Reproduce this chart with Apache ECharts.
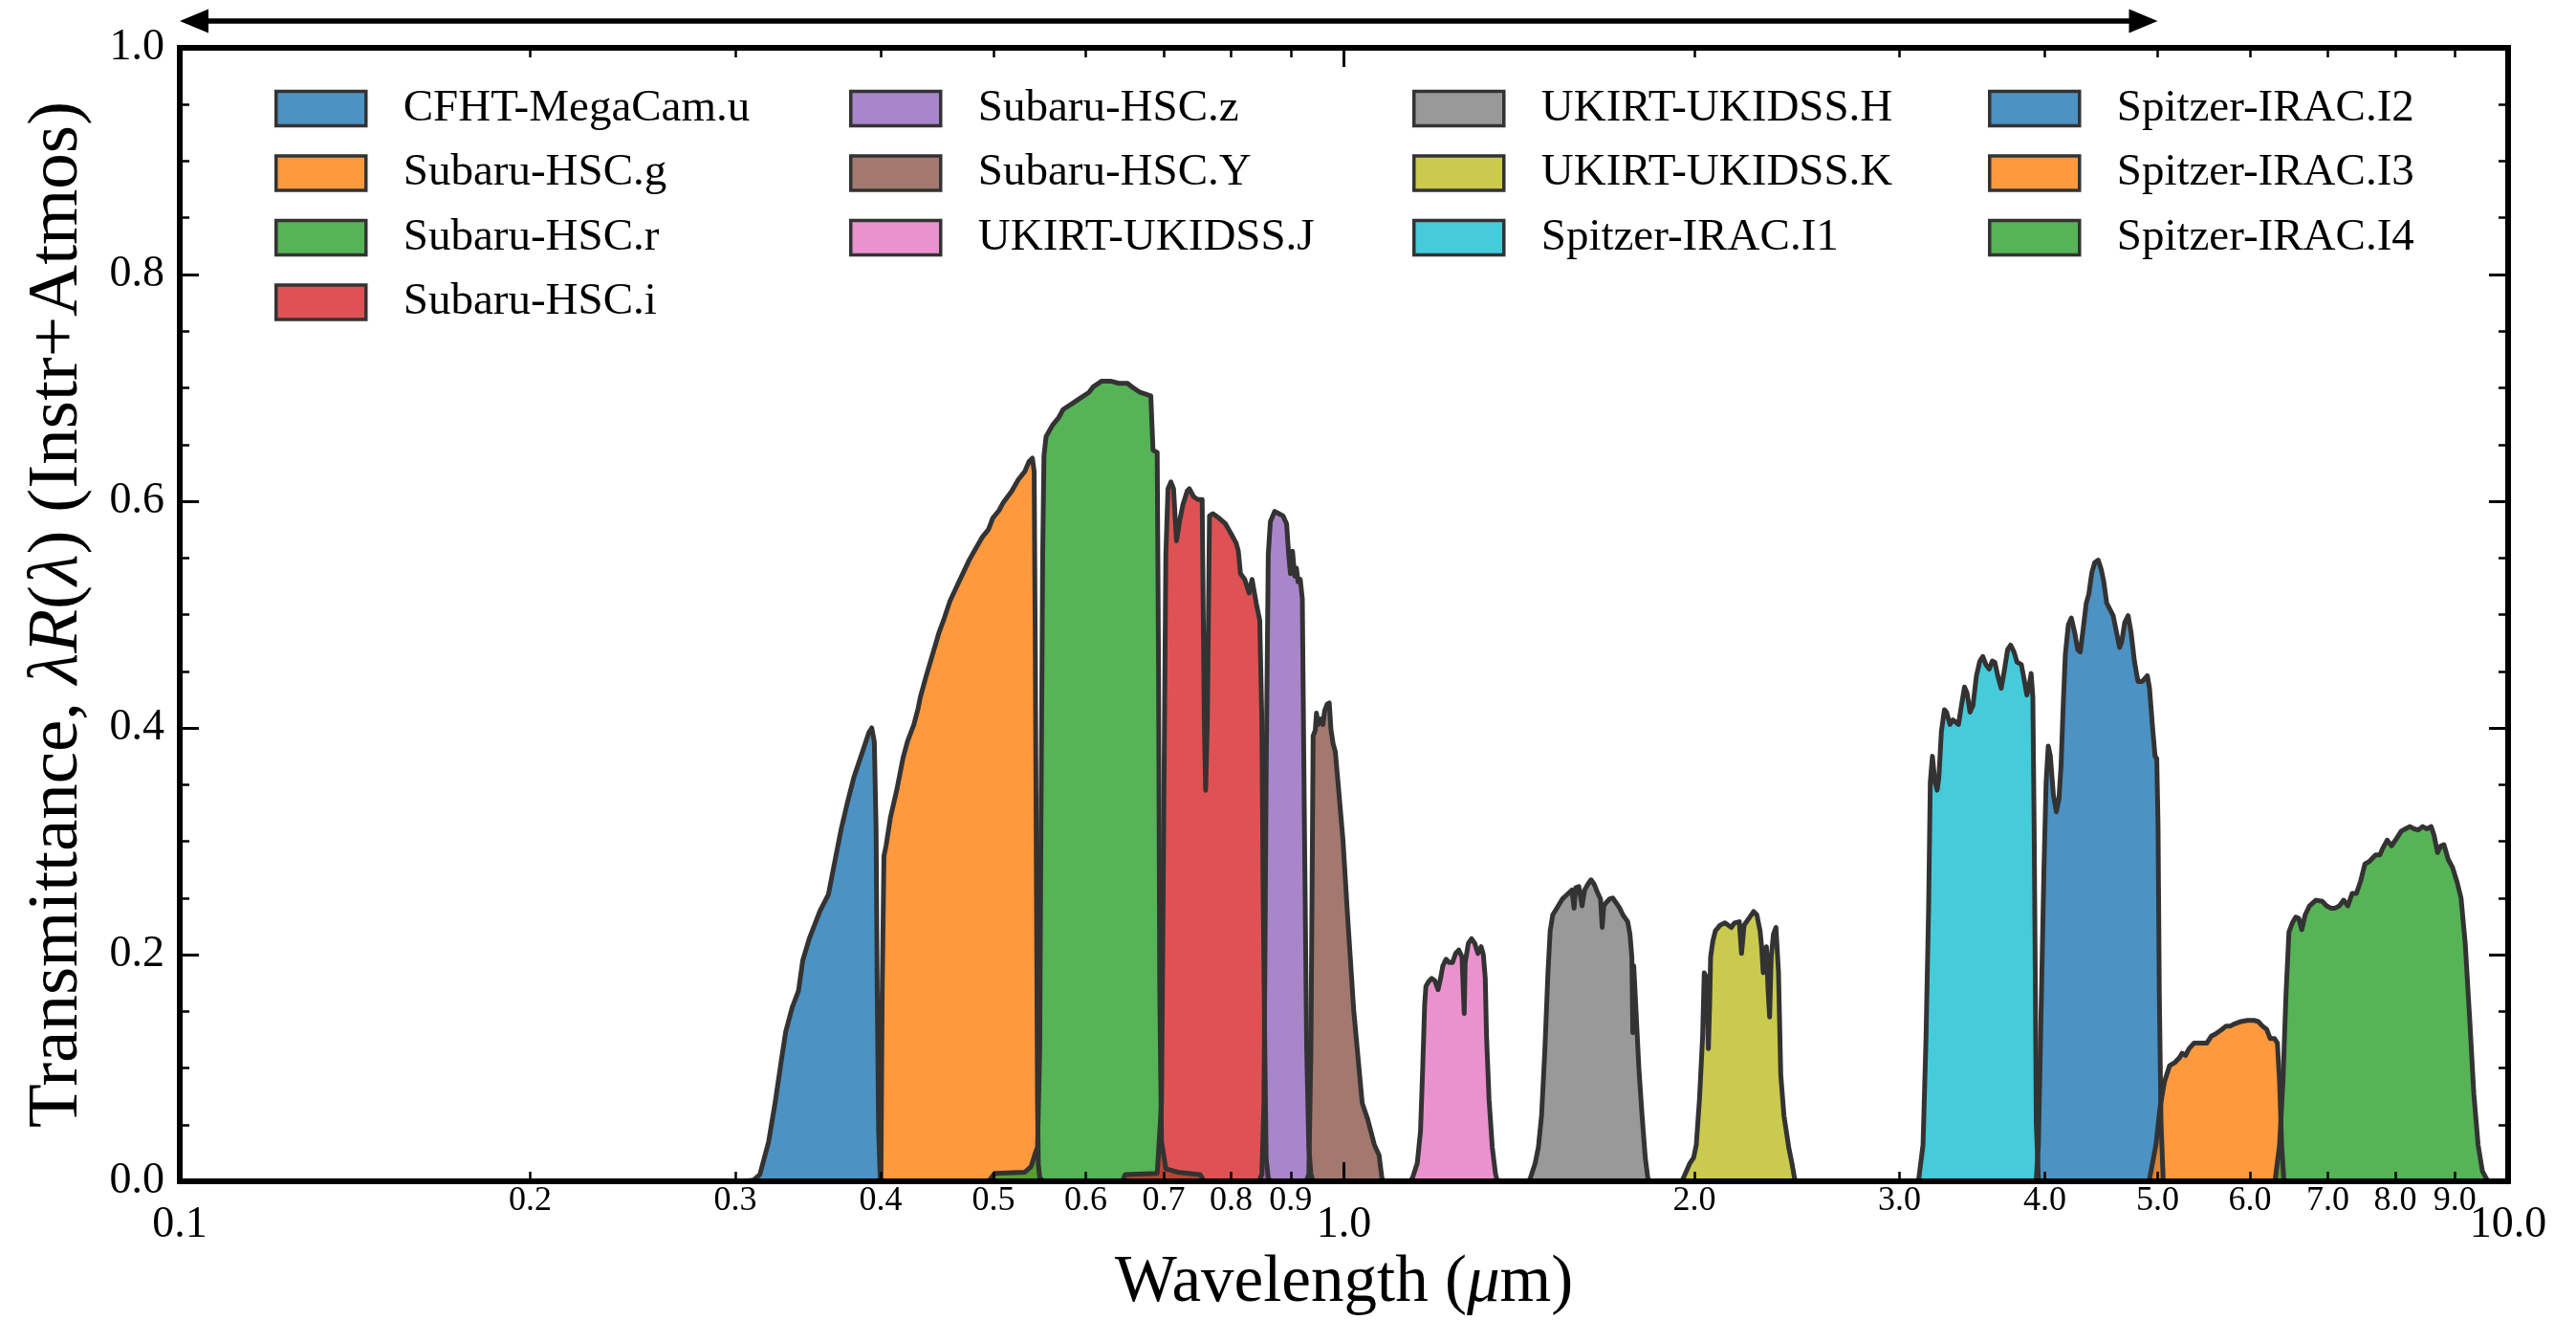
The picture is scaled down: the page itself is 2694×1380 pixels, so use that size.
<!DOCTYPE html>
<html><head><meta charset="utf-8">
<script src="https://cdn.jsdelivr.net/npm/echarts@6/dist/echarts.min.js"></script>
<style>html,body{margin:0;padding:0;background:#fff}#c{width:2694px;height:1380px}</style>
</head><body><div id="c"></div>
<script>
// ---------------- DATA ----------------
const filterNames = ['CFHT-MegaCam.u','Subaru-HSC.g','Subaru-HSC.r','Subaru-HSC.i','Subaru-HSC.z','Subaru-HSC.Y',
  'UKIRT-UKIDSS.J','UKIRT-UKIDSS.H','UKIRT-UKIDSS.K','Spitzer-IRAC.I1','Spitzer-IRAC.I2','Spitzer-IRAC.I3','Spitzer-IRAC.I4'];
const filterColors = ['#1f77b4','#ff7f0e','#2ca02c','#d62728','#9467bd','#8c564b','#e377c2','#7f7f7f','#bcbd22','#17becf','#1f77b4','#ff7f0e','#2ca02c'];

// [wavelength (um), transmittance]
const CFHT_u = [[0.305,0],[0.311,0.001],[0.315,0.006],[0.3205,0.035],[0.3246,0.069],[0.3287,0.107],[0.3315,0.132],[0.3357,0.153],[0.340,0.168],[0.3429,0.195],[0.3473,0.214],[0.3546,0.238],[0.3607,0.253],[0.3653,0.282],[0.370,0.311],[0.3747,0.335],[0.3795,0.357],[0.3859,0.379],[0.3908,0.396],[0.393,0.400],[0.395,0.388],[0.3964,0.311],[0.3973,0.166],[0.3984,0.044],[0.3997,0.002],[0.402,0]];
const HSC_g = [[0.397,0],[0.4002,0.002],[0.4012,0.166],[0.4026,0.287],[0.4043,0.296],[0.4078,0.321],[0.4129,0.345],[0.4182,0.374],[0.4218,0.388],[0.4272,0.403],[0.4307,0.417],[0.4326,0.427],[0.438,0.447],[0.4436,0.466],[0.4492,0.485],[0.453,0.495],[0.4588,0.512],[0.4646,0.524],[0.4705,0.536],[0.4765,0.548],[0.4826,0.558],[0.4888,0.568],[0.495,0.575],[0.4992,0.585],[0.5056,0.592],[0.5099,0.599],[0.5185,0.609],[0.5251,0.619],[0.5318,0.626],[0.5364,0.635],[0.540,0.638],[0.5419,0.626],[0.5432,0.456],[0.5446,0.214],[0.5455,0.069],[0.5464,0.015],[0.548,0.003],[0.552,0]];
const HSC_r = [[0.495,0],[0.5012,0.007],[0.5318,0.008],[0.5386,0.013],[0.5432,0.025],[0.5455,0.030],[0.5479,0.117],[0.5492,0.311],[0.5511,0.553],[0.5525,0.640],[0.5548,0.657],[0.5618,0.667],[0.569,0.674],[0.5739,0.681],[0.5838,0.686],[0.5938,0.691],[0.6039,0.696],[0.6091,0.701],[0.6194,0.706],[0.630,0.706],[0.6407,0.704],[0.6517,0.704],[0.6572,0.701],[0.6683,0.696],[0.6825,0.693],[0.6855,0.645],[0.6912,0.643],[0.693,0.456],[0.6947,0.166],[0.6971,0.035],[0.7031,0.011],[0.72,0.008],[0.7522,0.006],[0.7586,0]];
const HSC_i = [[0.645,0],[0.6488,0.006],[0.6912,0.007],[0.6971,0.069],[0.7001,0.311],[0.7031,0.553],[0.7061,0.611],[0.7102,0.617],[0.7139,0.611],[0.7181,0.565],[0.7224,0.582],[0.7273,0.597],[0.7335,0.609],[0.7366,0.611],[0.7428,0.604],[0.7491,0.6015],[0.7555,0.6015],[0.7586,0.408],[0.7607,0.345],[0.7633,0.408],[0.7665,0.587],[0.7716,0.589],[0.7814,0.585],[0.7912,0.580],[0.8012,0.570],[0.8081,0.563],[0.8115,0.556],[0.815,0.536],[0.8219,0.531],[0.8289,0.519],[0.8338,0.531],[0.8408,0.510],[0.8466,0.495],[0.8501,0.408],[0.8522,0.262],[0.8551,0.117],[0.8574,0.020],[0.861,0.003],[0.865,0]];
const HSC_z = [[0.845,0],[0.8501,0.006],[0.8537,0.069],[0.8574,0.359],[0.861,0.553],[0.8646,0.582],[0.8719,0.591],[0.8793,0.589],[0.8867,0.587],[0.8928,0.580],[0.8965,0.553],[0.8996,0.536],[0.9033,0.556],[0.9072,0.534],[0.9103,0.541],[0.9132,0.529],[0.9172,0.531],[0.921,0.514],[0.9249,0.311],[0.929,0.117],[0.9329,0.030],[0.9368,0.006],[0.941,0]];
const HSC_Y = [[0.928,0],[0.9329,0.006],[0.9368,0.117],[0.9409,0.393],[0.9449,0.398],[0.9471,0.413],[0.9504,0.403],[0.9553,0.408],[0.9592,0.403],[0.9625,0.415],[0.9674,0.421],[0.9714,0.422],[0.9748,0.398],[0.9789,0.386],[0.9831,0.379],[0.9897,0.345],[0.9981,0.301],[1.0067,0.238],[1.0195,0.151],[1.0368,0.069],[1.048,0.055],[1.0622,0.032],[1.072,0.023],[1.078,0.003],[1.082,0]];
const UKIDSS_J = [[1.14,0],[1.1452,0.003],[1.1561,0.016],[1.1635,0.044],[1.1686,0.100],[1.1731,0.156],[1.176,0.172],[1.1819,0.176],[1.1894,0.179],[1.1969,0.177],[1.2045,0.169],[1.2106,0.179],[1.216,0.190],[1.2238,0.196],[1.2315,0.193],[1.2393,0.193],[1.2472,0.201],[1.2551,0.204],[1.263,0.198],[1.2686,0.148],[1.271,0.193],[1.279,0.210],[1.2871,0.214],[1.2953,0.210],[1.3035,0.201],[1.3117,0.207],[1.3175,0.200],[1.3225,0.179],[1.3258,0.128],[1.3325,0.072],[1.341,0.030],[1.3494,0.007],[1.3537,0.001],[1.358,0]];
const UKIDSS_H = [[1.44,0],[1.446,0.003],[1.4598,0.016],[1.469,0.030],[1.4783,0.058],[1.4877,0.114],[1.4971,0.184],[1.5037,0.221],[1.5113,0.235],[1.5257,0.242],[1.5402,0.249],[1.5548,0.253],[1.5696,0.257],[1.5765,0.241],[1.5815,0.259],[1.5915,0.260],[1.6016,0.243],[1.6097,0.257],[1.6199,0.262],[1.6302,0.266],[1.6405,0.262],[1.6509,0.255],[1.6613,0.249],[1.6666,0.224],[1.6718,0.243],[1.6803,0.246],[1.6909,0.249],[1.7016,0.250],[1.7124,0.246],[1.7254,0.241],[1.7363,0.235],[1.7529,0.229],[1.7607,0.218],[1.7673,0.198],[1.7706,0.131],[1.774,0.190],[1.7808,0.156],[1.792,0.100],[1.8034,0.058],[1.8148,0.021],[1.824,0.003],[1.83,0]];
const UKIDSS_K = [[1.95,0],[1.9571,0.003],[1.9823,0.016],[1.9973,0.021],[2.0074,0.032],[2.0201,0.072],[2.0329,0.128],[2.0393,0.184],[2.0458,0.181],[2.0522,0.156],[2.0561,0.117],[2.0613,0.156],[2.0652,0.198],[2.0743,0.212],[2.0848,0.221],[2.1046,0.226],[2.1246,0.228],[2.1381,0.226],[2.1516,0.224],[2.1652,0.228],[2.1858,0.229],[2.1955,0.201],[2.2066,0.226],[2.2276,0.232],[2.2488,0.238],[2.263,0.235],[2.2773,0.221],[2.2845,0.207],[2.2917,0.184],[2.3062,0.207],[2.3135,0.170],[2.3208,0.145],[2.3282,0.198],[2.3385,0.218],[2.3502,0.224],[2.3577,0.224],[2.3621,0.184],[2.3726,0.094],[2.3876,0.058],[2.4103,0.030],[2.4255,0.016],[2.4378,0.003],[2.445,0]];
const IRAC_I1 = [[3.10,0],[3.1171,0.002],[3.1435,0.032],[3.1621,0.126],[3.1782,0.239],[3.189,0.352],[3.2025,0.375],[3.2188,0.352],[3.2325,0.345],[3.2435,0.356],[3.2599,0.397],[3.2793,0.416],[3.2932,0.414],[3.3155,0.403],[3.3352,0.407],[3.355,0.405],[3.372,0.403],[3.392,0.420],[3.4122,0.436],[3.4295,0.431],[3.4498,0.414],[3.4703,0.420],[3.4938,0.446],[3.5175,0.459],[3.5384,0.463],[3.5594,0.456],[3.5835,0.452],[3.6048,0.459],[3.6231,0.458],[3.6446,0.446],[3.6693,0.435],[3.6911,0.450],[3.7161,0.469],[3.7383,0.473],[3.7636,0.467],[3.7859,0.458],[3.8182,0.456],[3.8408,0.442],[3.8603,0.429],[3.8767,0.437],[3.8931,0.448],[3.9063,0.427],[3.9162,0.314],[3.9262,0.164],[3.9328,0.051],[3.9494,0.002],[3.96,0]];
const IRAC_I2 = [[3.925,0],[3.9328,0.002],[3.9494,0.032],[3.973,0.164],[3.9932,0.277],[4.0101,0.352],[4.027,0.384],[4.0441,0.375],[4.0681,0.341],[4.0922,0.326],[4.113,0.337],[4.1305,0.367],[4.148,0.420],[4.1655,0.465],[4.1902,0.491],[4.2151,0.497],[4.2436,0.484],[4.2688,0.469],[4.2904,0.467],[4.3158,0.488],[4.3414,0.510],[4.3635,0.518],[4.3894,0.537],[4.4154,0.546],[4.4454,0.548],[4.4717,0.540],[4.4945,0.529],[4.5211,0.510],[4.548,0.505],[4.5789,0.499],[4.61,0.484],[4.6374,0.471],[4.657,0.476],[4.6846,0.493],[4.7163,0.499],[4.7443,0.484],[4.7766,0.458],[4.809,0.441],[4.8499,0.441],[4.8993,0.446],[4.9201,0.435],[4.9493,0.401],[4.9744,0.375],[4.9912,0.373],[5.004,0.314],[5.0167,0.164],[5.0337,0.051],[5.055,0.002],[5.07,0]];
const IRAC_I3 = [[4.90,0],[4.9201,0.002],[4.9829,0.032],[5.0252,0.066],[5.0679,0.088],[5.1195,0.102],[5.176,0.105],[5.2198,0.109],[5.2481,0.113],[5.2837,0.111],[5.3196,0.117],[5.3738,0.122],[5.4425,0.122],[5.5117,0.122],[5.5586,0.128],[5.6057,0.130],[5.6772,0.134],[5.7253,0.137],[5.7739,0.137],[5.8229,0.139],[5.8971,0.141],[5.9723,0.142],[6.0484,0.142],[6.0998,0.141],[6.1516,0.137],[6.2037,0.134],[6.2457,0.126],[6.2987,0.126],[6.336,0.122],[6.363,0.088],[6.3899,0.032],[6.4169,0.002],[6.43,0]];
const IRAC_I4 = [[6.29,0],[6.3093,0.002],[6.363,0.032],[6.4061,0.088],[6.4443,0.164],[6.4826,0.220],[6.5265,0.228],[6.5707,0.233],[6.6098,0.232],[6.649,0.222],[6.694,0.235],[6.7509,0.243],[6.8369,0.248],[6.924,0.247],[6.9826,0.243],[7.042,0.241],[7.1015,0.241],[7.1619,0.243],[7.2226,0.248],[7.2836,0.243],[7.3456,0.254],[7.4078,0.254],[7.4707,0.265],[7.5341,0.280],[7.598,0.282],[7.6947,0.288],[7.76,0.288],[7.8061,0.294],[7.8724,0.301],[7.9392,0.296],[8.0269,0.303],[8.0951,0.309],[8.1637,0.311],[8.233,0.313],[8.3028,0.311],[8.3732,0.310],[8.4441,0.313],[8.5157,0.311],[8.5879,0.313],[8.6389,0.305],[8.6974,0.290],[8.7565,0.296],[8.8083,0.297],[8.883,0.284],[8.9583,0.277],[9.0343,0.265],[9.1109,0.250],[9.1882,0.209],[9.2661,0.145],[9.3447,0.077],[9.424,0.032],[9.5039,0.009],[9.5844,0.002],[9.62,0]];

const filterCurves = [CFHT_u, HSC_g, HSC_r, HSC_i, HSC_z, HSC_Y, UKIDSS_J, UKIDSS_H, UKIDSS_K, IRAC_I1, IRAC_I2, IRAC_I3, IRAC_I4];

const xMajorTicks = [0.1, 1, 10];
const xMajorLabels = ['0.1', '1.0', '10.0'];
const xMinorTicks = [0.2, 0.3, 0.4, 0.5, 0.6, 0.7, 0.8, 0.9, 2, 3, 4, 5, 6, 7, 8, 9];
const xMinorLabels = ['0.2','0.3','0.4','0.5','0.6','0.7','0.8','0.9','2.0','3.0','4.0','5.0','6.0','7.0','8.0','9.0'];
const yRange = [0, 1];
const yStep = 0.2;
const arrowRange = [0.1, 5.0];
const legendColumns = [[0,1,2,3],[4,5,6],[7,8,9],[10,11,12]];

// ---------------- CHART ----------------
const FONT = '"Liberation Serif", "DejaVu Serif", serif';
function rgba(hex, a) {
  const n = parseInt(hex.slice(1), 16);
  return 'rgba(' + ((n >> 16) & 255) + ',' + ((n >> 8) & 255) + ',' + (n & 255) + ',' + a + ')';
}
const lg = v => Math.log10(v);
const majorPos = xMajorTicks.map(lg);
const minorPos = xMinorTicks.map(lg);
function labelFor(pos, labels) {
  return function (v) {
    let best = 0, bd = Infinity;
    pos.forEach((p, i) => { const d = Math.abs(p - v); if (d < bd) { bd = d; best = i; } });
    return labels[best];
  };
}

const chart = echarts.init(document.getElementById('c'), null, {renderer: 'canvas'});
const black = '#000';

function tickAxis(position, posArr, labels, len, width, showLabel, fontSize, margin, showLine) {
  return {
    type: 'value', min: -1, max: 1, position: position, gridIndex: 0, z: 10,
    axisLine: {show: !!showLine, onZero: false, lineStyle: {color: black, width: 6, cap: 'square'}},
    axisTick: {show: true, inside: true, length: len, customValues: posArr, lineStyle: {color: black, width: width}},
    axisLabel: {show: showLabel, customValues: posArr, formatter: labelFor(posArr, labels), margin: margin,
      fontFamily: FONT, fontSize: fontSize, color: black},
    splitLine: {show: false}, minorTick: {show: false}
  };
}

const option = {
  backgroundColor: '#fff',
  animation: false,
  grid: {left: 188, right: 71, top: 50, bottom: 145, show: false, outerBoundsMode: 'none', containLabel: false},
  xAxis: [
    {type: 'log', logBase: 10, min: 0.1, max: 10, position: 'bottom', gridIndex: 0, z: 10,
      axisLine: {show: true, onZero: false, lineStyle: {color: black, width: 6, cap: 'square'}},
      axisTick: {show: false}, axisLabel: {show: false}, splitLine: {show: false}, minorTick: {show: false}},
    tickAxis('bottom', majorPos, xMajorLabels, 20, 3, true, 46, 23, false),
    tickAxis('bottom', minorPos, xMinorLabels, 10, 2.5, true, 36, 3, false),
    tickAxis('top', majorPos, xMajorLabels, 20, 3, false, 46, 10, true),
    tickAxis('top', minorPos, xMinorLabels, 10, 2.5, false, 36, 10, false)
  ],
  yAxis: [
    {type: 'value', min: yRange[0], max: yRange[1], interval: yStep, position: 'left', z: 10,
      axisLine: {show: true, onZero: false, lineStyle: {color: black, width: 6, cap: 'square'}},
      axisTick: {show: true, inside: true, length: 20, lineStyle: {color: black, width: 3}},
      minorTick: {show: true, splitNumber: 4, length: 10, lineStyle: {color: black, width: 2.5}},
      axisLabel: {formatter: v => v.toFixed(1), margin: 16, fontFamily: FONT, fontSize: 46, color: black},
      splitLine: {show: false}, minorSplitLine: {show: false}},
    {type: 'value', min: yRange[0], max: yRange[1], interval: yStep, position: 'right', z: 10,
      axisLine: {show: true, onZero: false, lineStyle: {color: black, width: 6, cap: 'square'}},
      axisTick: {show: true, inside: true, length: 20, lineStyle: {color: black, width: 3}},
      minorTick: {show: true, splitNumber: 4, length: 10, lineStyle: {color: black, width: 2.5}},
      axisLabel: {show: false}, splitLine: {show: false}, minorSplitLine: {show: false}}
  ],
  legend: legendColumns.map((col, ci) => ({
    data: col.map(i => filterNames[i]),
    orient: 'vertical',
    left: [287, 888, 1477, 2079][ci],
    top: 90,
    padding: 0,
    itemWidth: 94, itemHeight: 36, itemGap: 20.5,
    icon: 'rect',
    selectedMode: false,
    itemStyle: {borderColor: '#333', borderWidth: 3.5},
    textStyle: {fontFamily: FONT, fontSize: 47, color: black, lineHeight: 36, padding: [0, 0, 0, 34]}
  })),
  series: filterNames.map((name, i) => ({
    name: name, type: 'line', xAxisIndex: 0, yAxisIndex: 0,
    data: filterCurves[i],
    symbol: 'none', showSymbol: false, smooth: false, silent: true,
    color: rgba(filterColors[i], 0.8),
    itemStyle: {color: rgba(filterColors[i], 0.8)},
    lineStyle: {color: '#333', width: 5, join: 'round'},
    areaStyle: {opacity: 1},
    emphasis: {disabled: true}
  }))
};
chart.setOption(option);

const ax0 = chart.convertToPixel({xAxisIndex: 0}, arrowRange[0]);
const ax1 = chart.convertToPixel({xAxisIndex: 0}, arrowRange[1]);
const xMid = chart.convertToPixel({xAxisIndex: 0}, 1);
const yTop = chart.convertToPixel({yAxisIndex: 0}, yRange[1]);
const yBot = chart.convertToPixel({yAxisIndex: 0}, yRange[0]);
const arrowY = 22;
chart.setOption({
  graphic: [
    {type: 'line', shape: {x1: ax0 + 20, y1: arrowY, x2: ax1 - 20, y2: arrowY}, style: {stroke: black, lineWidth: 5.5}},
    {type: 'polygon', shape: {points: [[ax0, arrowY], [ax0 + 30, arrowY - 12.5], [ax0 + 30, arrowY + 12.5]]}, style: {fill: black}},
    {type: 'polygon', shape: {points: [[ax1, arrowY], [ax1 - 30, arrowY - 12.5], [ax1 - 30, arrowY + 12.5]]}, style: {fill: black}},
    {type: 'text', x: xMid, y: 1342,
      style: {text: '{n|Wavelength (}{i|μ}{n|m)}', align: 'center', verticalAlign: 'middle',
        fontFamily: FONT, fontSize: 69, fill: black,
        rich: {n: {fontFamily: FONT, fontSize: 69, fill: black}, i: {fontFamily: FONT, fontSize: 69, fontStyle: 'italic', fill: black}}}},
    {type: 'text', x: 60, y: (yTop + yBot) / 2, rotation: Math.PI / 2,
      style: {text: '{n|Transmittance, }{i|λR}{n|(}{i|λ}{n|) (Instr+Atmos)}', align: 'center', verticalAlign: 'middle',
        fontFamily: FONT, fontSize: 75, fill: black,
        rich: {n: {fontFamily: FONT, fontSize: 75, fill: black}, i: {fontFamily: FONT, fontSize: 75, fontStyle: 'italic', fill: black}}}}
  ]
});
</script>
</body></html>
